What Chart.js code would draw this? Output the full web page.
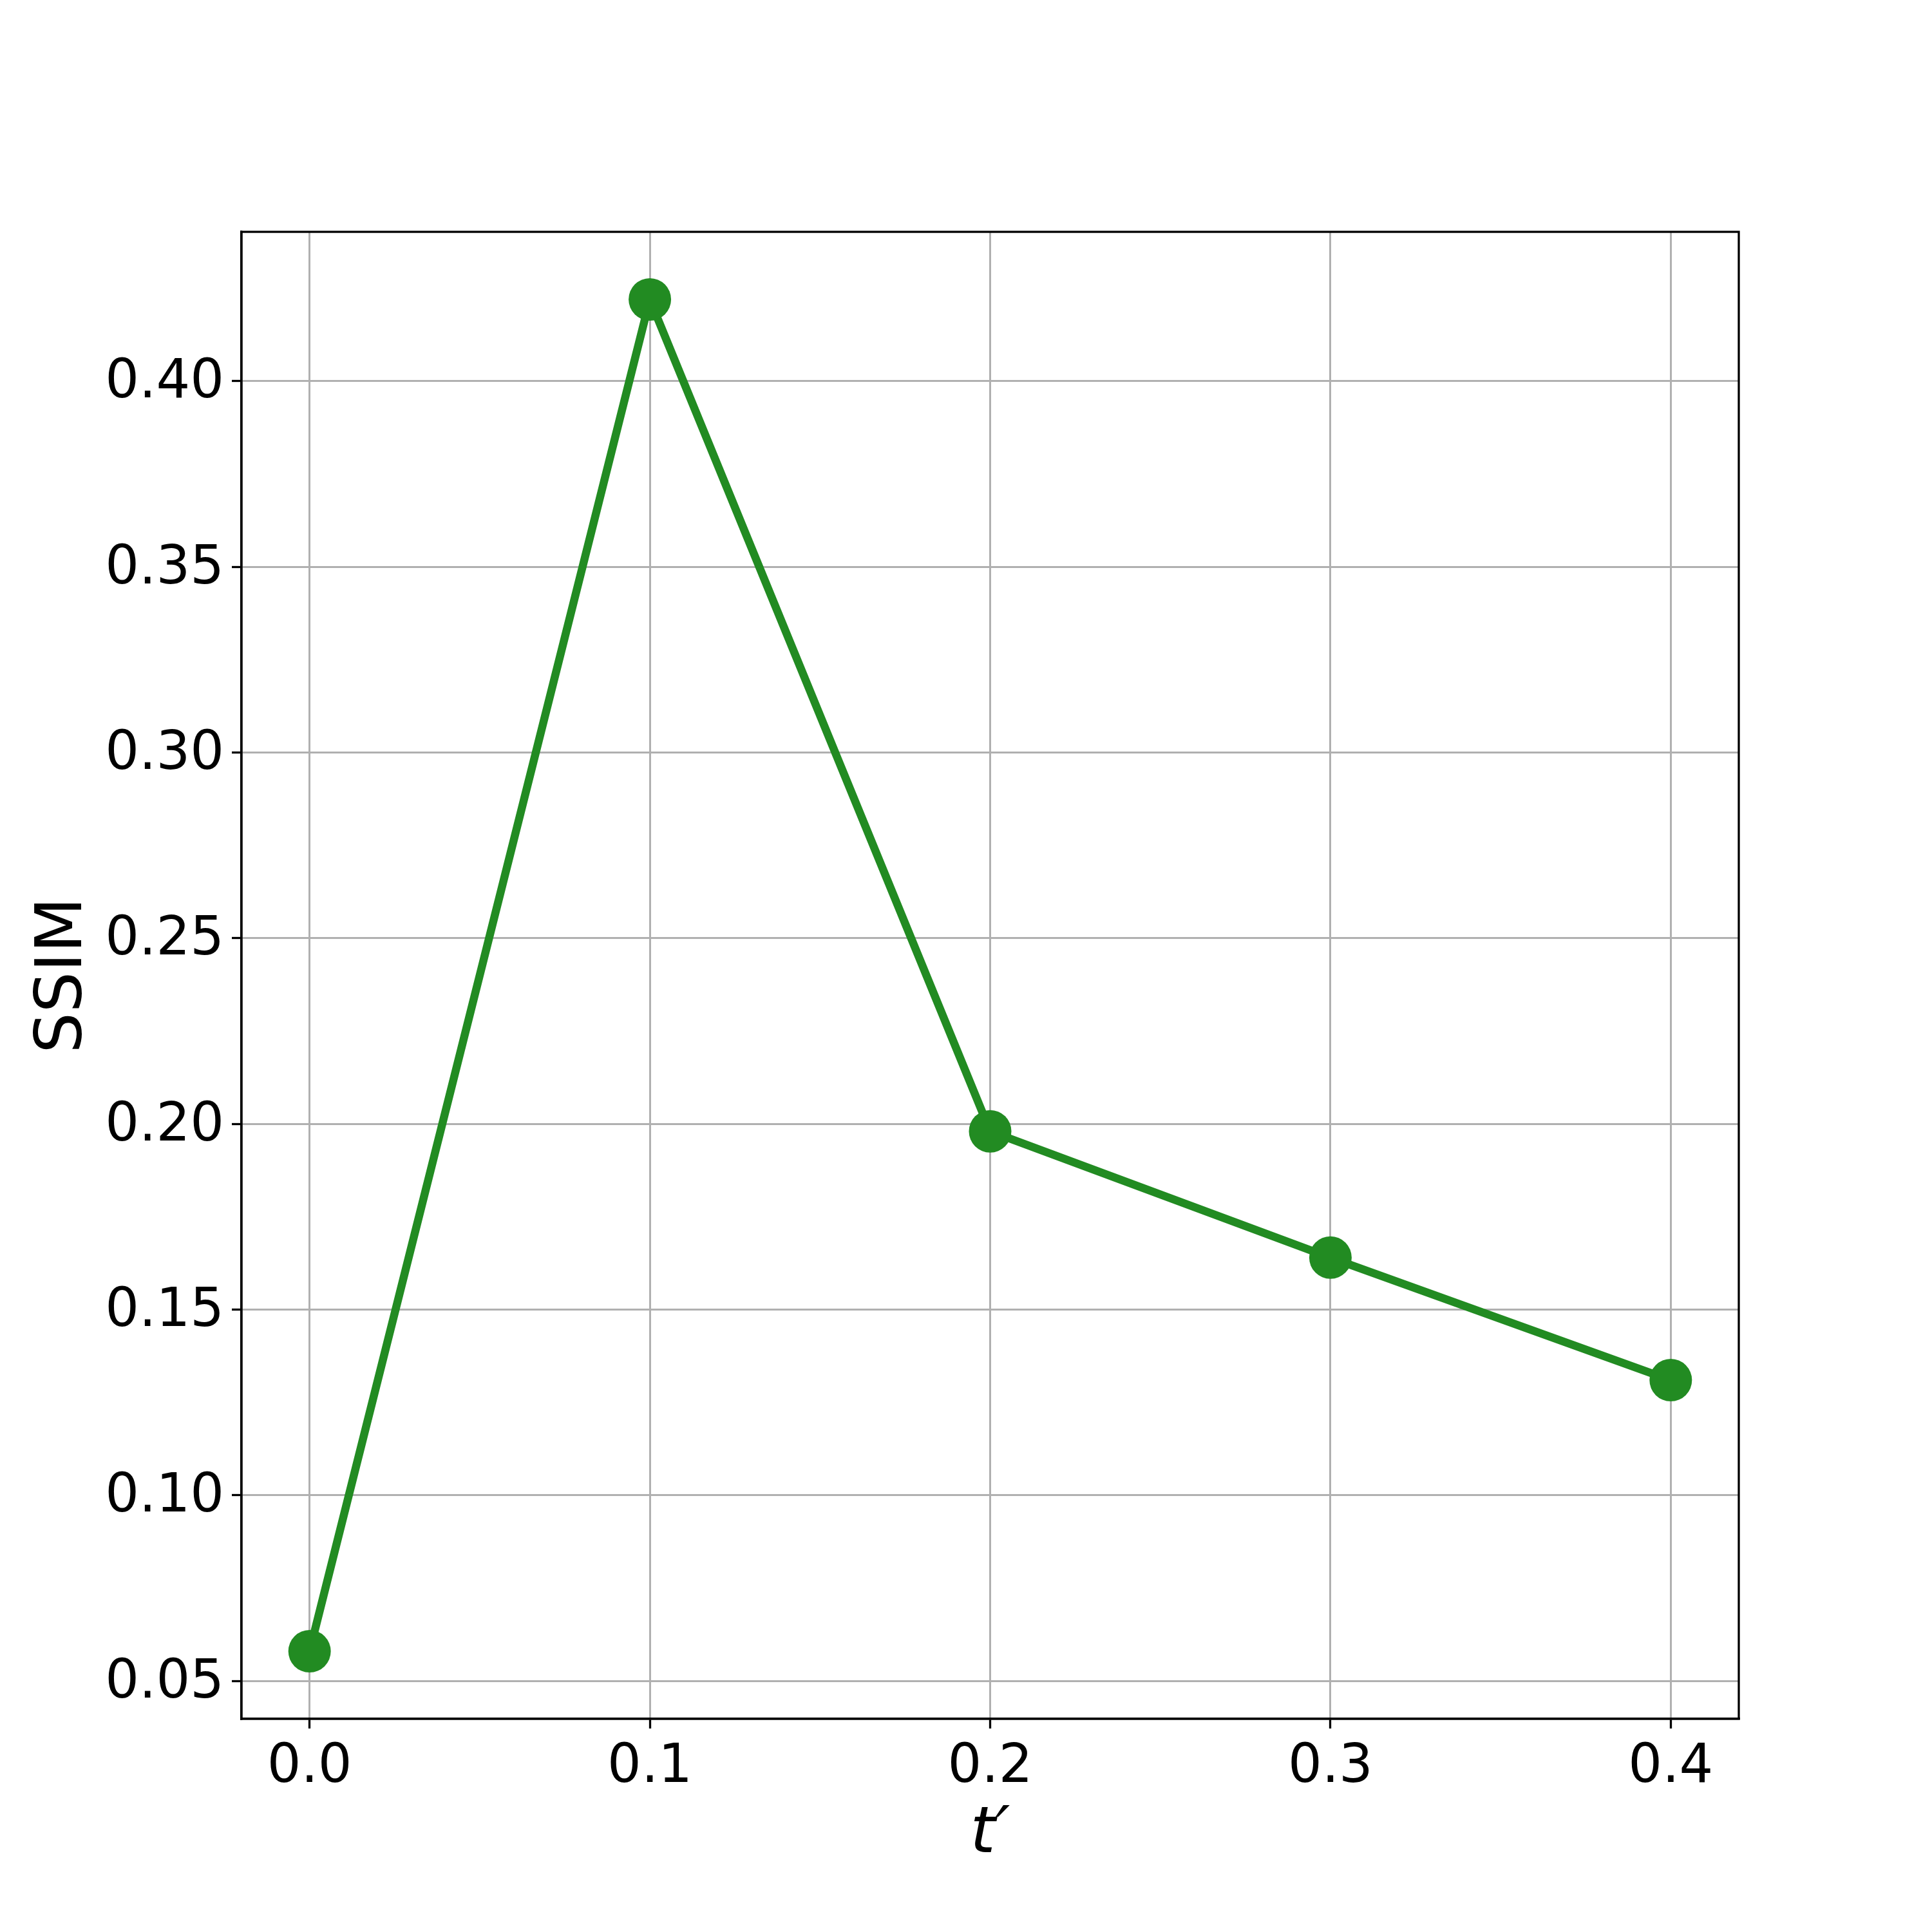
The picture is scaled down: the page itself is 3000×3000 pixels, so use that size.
<!DOCTYPE html>
<html>
<head>
<meta charset="utf-8">
<script src="https://cdn.jsdelivr.net/npm/chart.js@4"></script>
<style>
  html, body { margin: 0; padding: 0; background: #ffffff; }
  #wrap { width: 3000px; height: 3000px; }
</style>
</head>
<body>
<div id="wrap"><canvas id="c" width="3000" height="3000"></canvas></div>
<script>
// ---- data ----
const tValues = [0.0, 0.1, 0.2, 0.3, 0.4];
const ssimValues = [0.058, 0.422, 0.198, 0.164, 0.131];
const xTicks = [0.0, 0.1, 0.2, 0.3, 0.4];
const yTicks = [0.05, 0.10, 0.15, 0.20, 0.25, 0.30, 0.35, 0.40];
const xTitle = 't\u2032';
const yTitle = 'SSIM';

const points = tValues.map((t, i) => ({ x: t, y: ssimValues[i] }));

const frame = {
  id: 'frame',
  afterDatasetsDraw(chart) {
    const a = chart.chartArea, ctx = chart.ctx;
    ctx.save();
    ctx.strokeStyle = '#000';
    ctx.lineWidth = 3.3;
    ctx.strokeRect(a.left, a.top, a.right - a.left, a.bottom - a.top);
    ctx.restore();
  }
};

const tickFont = { family: 'DejaVu Sans', size: 83 };

new Chart(document.getElementById('c'), {
  type: 'line',
  data: {
    datasets: [{
      data: points,
      borderColor: '#228B22',
      backgroundColor: '#228B22',
      borderWidth: 12.5,
      pointRadius: 33,
      pointHoverRadius: 33,
      pointBorderWidth: 0,
      pointBackgroundColor: '#228B22',
      tension: 0,
      fill: false,
      clip: false
    }]
  },
  options: {
    responsive: false,
    animation: false,
    devicePixelRatio: 1,
    layout: { padding: { left: 0, right: 300, top: 360, bottom: 90 } },
    plugins: { legend: { display: false }, tooltip: { enabled: false } },
    scales: {
      x: {
        type: 'linear',
        position: 'bottom',
        min: -0.02,
        max: 0.42,
        afterBuildTicks: s => { s.ticks = xTicks.map(v => ({ value: v })); },
        afterFit: s => { s.height = 241; },
        ticks: {
          font: tickFont, color: '#000', padding: 12,
          maxRotation: 0, autoSkip: false,
          callback: v => Number(v).toFixed(1)
        },
        grid: { color: '#b0b0b0', lineWidth: 3, tickLength: 15, tickColor: '#000', tickWidth: 3.3 },
        border: { display: true, color: '#000', width: 3.3 },
        title: {
          display: true, text: xTitle, color: '#000',
          font: { family: 'DejaVu Sans', size: 100, style: 'italic', lineHeight: 1.2 },
          padding: { top: 0, bottom: 0 }
        }
      },
      y: {
        type: 'linear',
        position: 'left',
        min: 0.0398,
        max: 0.4402,
        afterBuildTicks: s => { s.ticks = yTicks.map(v => ({ value: v })); },
        afterFit: s => { s.width = 375; },
        ticks: {
          font: tickFont, color: '#000', padding: 12,
          autoSkip: false, labelOffset: 4,
          callback: v => Number(v).toFixed(2)
        },
        grid: { color: '#b0b0b0', lineWidth: 3, tickLength: 15, tickColor: '#000', tickWidth: 3.3 },
        border: { display: true, color: '#000', width: 3.3 },
        title: {
          display: true, text: yTitle, color: '#000',
          font: { family: 'DejaVu Sans', size: 100, lineHeight: 1.2 },
          padding: { top: 40, bottom: 0 }
        }
      }
    }
  },
  plugins: [frame]
});
</script>
</body>
</html>
